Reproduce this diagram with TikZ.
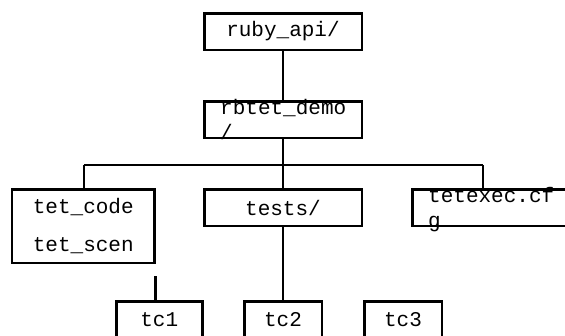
\documentclass[tikz,border=0pt]{standalone}
\usepackage{fontspec}
\setmonofont{Liberation Mono}
\usepackage{tikz}
\tikzset{
    every node/.style={font=\ttfamily\fontsize{21}{25}\selectfont}
}
\tikzset{
    dirbox/.style={draw, line width=2.5pt, inner sep=0pt, outer sep=0pt,
    	minimum width=157.5pt, minimum height=36.5pt}
}
\tikzset{
    wraptext/.style={anchor=north west, inner sep=0pt, align=left}
}
\tikzset{
    every edge/.append style={line width=2.5pt}
}

\begin{document}
\begin{tikzpicture}[x=1pt, y=-1pt]
  \useasboundingbox (0,0) rectangle (565,335);
  \clip (0,0) rectangle (565,335);

  \node (ruby) [dirbox] at (283, 31.5) {ruby\_api/};
  \node (demo) [dirbox] at (283, 119.5) {};
  \node (code) [dirbox, minimum width=142.5pt, minimum height=73.5pt,
  	align=center] at (83.3, 226) {tet\_code\\[13pt]tet\_scen};
  \node (tests) [dirbox] at (283, 207.5) {tests/};
  \node (cfg) [dirbox, minimum width=200pt] at (512.25, 207.5) {};
  \node (tc1) [dirbox, minimum width=86pt] at (159.3, 319.5) {tc1};
  \node (tc2) [dirbox, minimum width=77.5pt] at (283, 319.5) {tc2};
  \node (tc3) [dirbox, minimum width=77.5pt] at (403, 319.5) {tc3};

  % names that run over their boxes
  \node (demotxt) [wraptext] at (220, 99) {rbtet\_demo\\/};
  \node (cfgtxt) [wraptext] at (428, 187) {tetexec.cf\\g};

  \coordinate (busL) at (84, 165);
  \coordinate (busM) at (283, 165);
  \coordinate (busR) at (483, 165);
  \coordinate (stub) at (155.5, 276);

  \draw (ruby) edge (demo); \draw (demo) edge (busM);
  \draw (busL) edge (busR);
  \draw (busL) edge (busL |- code.north);
  \draw (busM) edge (tests); \draw (busR) edge (busR |- cfg.north);
  \draw (tests) edge (tc2);
  \draw (stub) edge (stub |- tc1.north);
\end{tikzpicture}
\end{document}
